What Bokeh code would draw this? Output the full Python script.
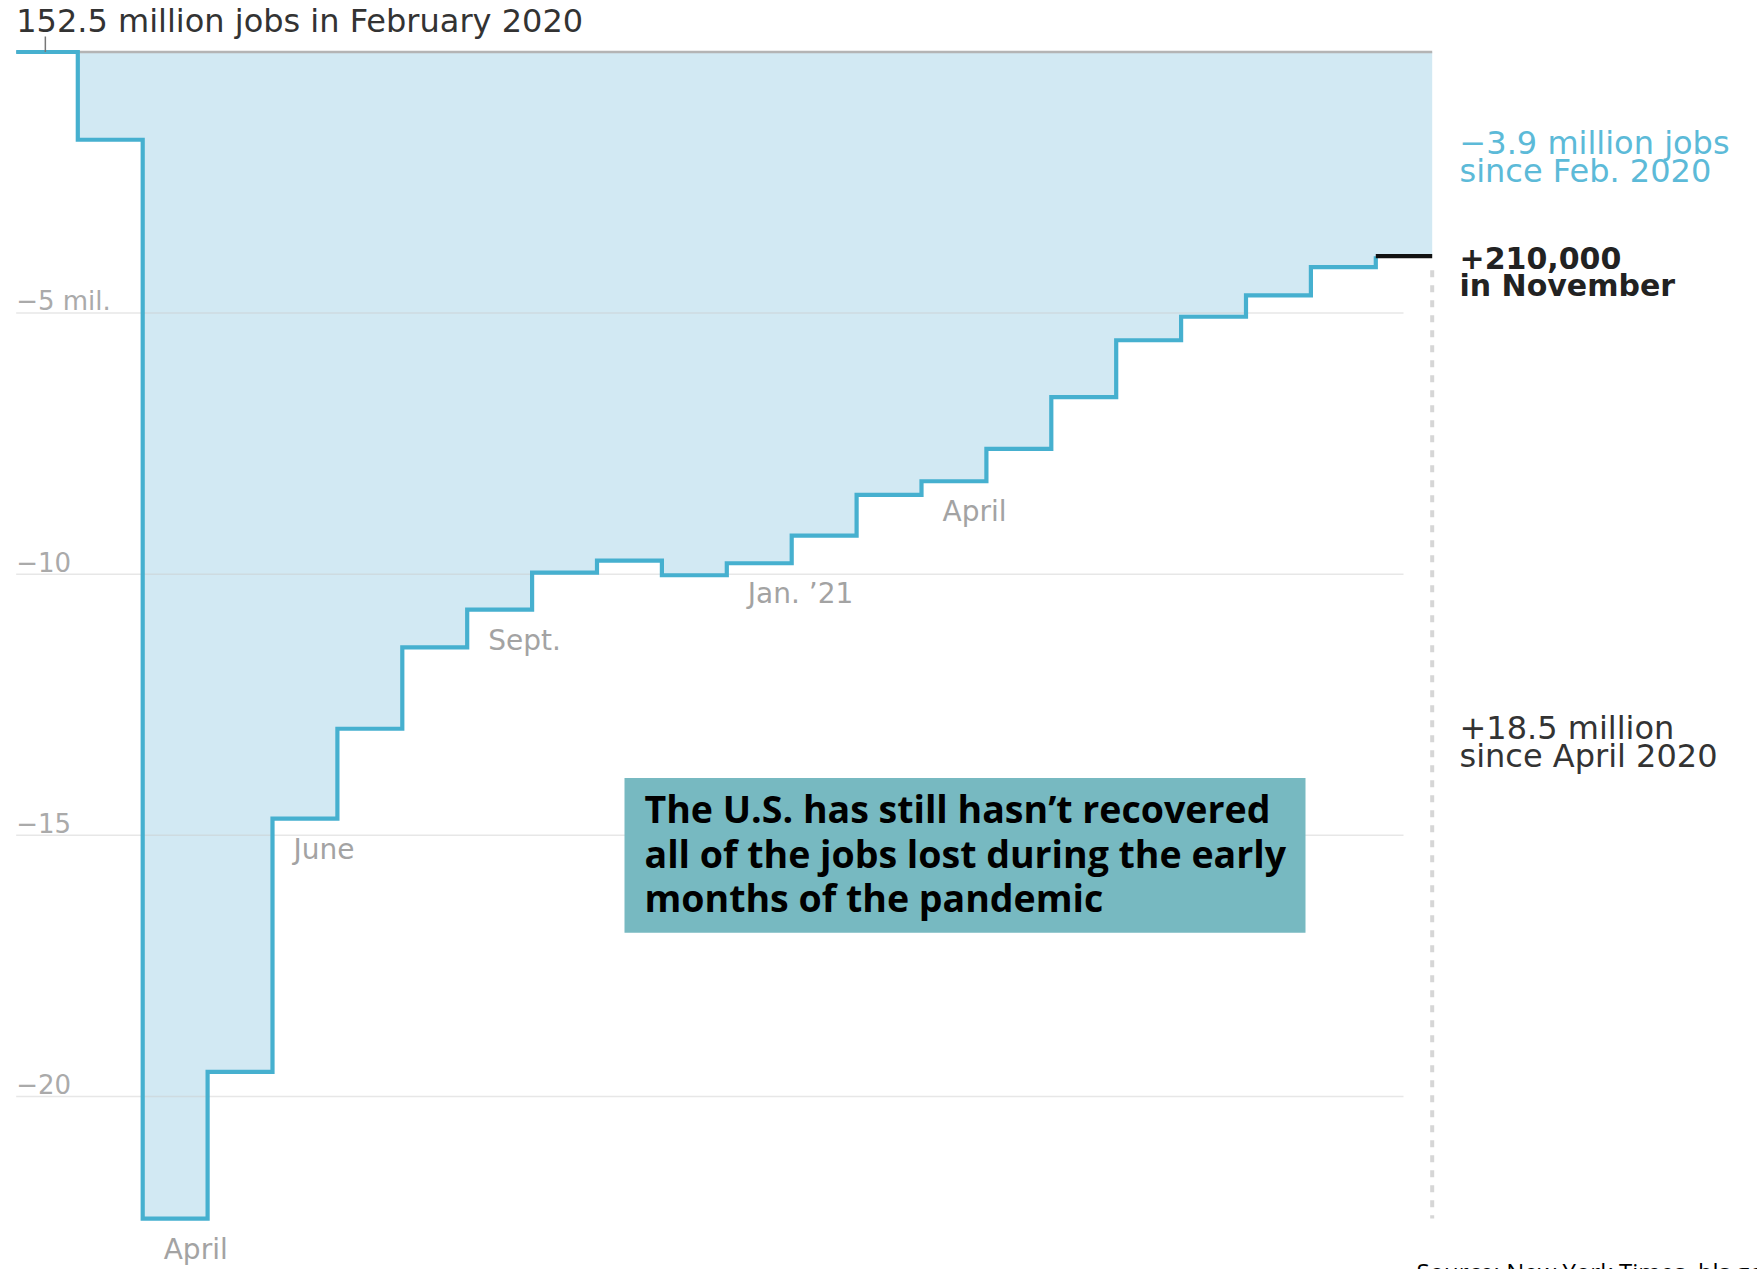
import numpy as np
from bokeh.plotting import figure
from bokeh.models import Range1d
from bokeh.core.properties import value
from bokeh.embed import file_html
from bokeh.resources import INLINE

# ---------------- data ----------------
months = ["Feb 2020", "Mar 2020", "Apr 2020", "May 2020", "Jun 2020", "Jul 2020",
          "Aug 2020", "Sep 2020", "Oct 2020", "Nov 2020", "Dec 2020", "Jan 2021",
          "Feb 2021", "Mar 2021", "Apr 2021", "May 2021", "Jun 2021", "Jul 2021",
          "Aug 2021", "Sep 2021", "Oct 2021", "Nov 2021"]
# change in jobs since Feb. 2020, millions
change_mil = [0.0, -1.68, -22.34, -19.53, -14.68, -12.96, -11.40, -10.68, -9.97,
              -9.74, -10.02, -9.79, -9.26, -8.48, -8.22, -7.60, -6.61, -5.52,
              -5.07, -4.66, -4.12, -3.91]
grid_values = [-5, -10, -15, -20]
grid_labels = ["\u22125 mil.", "\u221210", "\u221215", "\u221220"]
label_names = ["April", "June", "Sept.", "Jan. \u201921", "April"]
label_months = ["Apr 2020", "Jun 2020", "Sep 2020", "Jan 2021", "Apr 2021"]

title_text = "152.5 million jobs in February 2020"
since_feb = ["\u22123.9 million jobs", "since Feb. 2020"]
last_month = ["+210,000", "in November"]
since_apr = ["+18.5 million", "since April 2020"]
box_lines = ["The U.S. has still hasn\u2019t recovered",
             "all of the jobs lost during the early",
             "months of the pandemic"]
source_text = "Source:  New York Times, bls.gov"

# ---------------- layout helpers (page pixels -> data) ----------------
W, H = 1757, 1269
X_ZERO_PX, PX_PER_MONTH = 44.85, 64.9
Y_ZERO_PX, PX_PER_MIL = 51.5, 52.22


def x_of(px):
    return (px - X_ZERO_PX) / PX_PER_MONTH


def y_of(py):
    return (Y_ZERO_PX - py) / PX_PER_MIL


def dy(pixels):
    return pixels / PX_PER_MIL


p = figure(width=W, height=H, x_range=Range1d(x_of(0), x_of(W)),
           y_range=Range1d(y_of(H), y_of(0)),
           toolbar_location=None, output_backend="svg",
           x_axis_location=None, y_axis_location=None, min_border=0)
p.grid.visible = False
p.outline_line_color = None
p.background_fill_color = "white"

vals = np.array(change_mil)
n = len(vals)
idx = np.arange(n)
left = idx - 0.5
right = idx + 0.5
left[0] = x_of(15.7)
right[-1] = x_of(1431.7)
step_x = np.ravel(np.column_stack([left, right]))
step_y = np.repeat(vals, 2)

BLUE = "#46b0cf"
FILL = "#d2e9f3"

# fill
p.varea(x=step_x, y1=np.zeros_like(step_y), y2=step_y, fill_color=FILL)

# gridlines
grid_end = x_of(1403)
p.segment(x0=[left[0]] * len(grid_values), y0=grid_values,
          x1=[grid_end] * len(grid_values), y1=grid_values,
          line_color="#c9c9c9", line_alpha=0.45, line_width=1.5)

# grid labels
p.text(x=[x_of(15.7)] * len(grid_values), y=[g + dy(12.5) for g in grid_values],
       text=grid_labels, text_font=value("DejaVu Sans"), text_font_size="26px",
       text_color="#aaaaaa", text_baseline="alphabetic", text_align="left")

# top baseline
p.segment(x0=[left[0]], y0=[0], x1=[right[-1]], y1=[0],
          line_color="#b4b4b4", line_width=2.5)

# dotted recovery line
p.segment(x0=[right[-1]], y0=[vals[-1] - dy(14)], x1=[right[-1]], y1=[vals.min()],
          line_color="#d6d6d6", line_width=4, line_dash="7 8")

# step line
p.line(step_x[:-1], step_y[:-1], line_color=BLUE, line_width=4.2, line_join="miter")
p.line(step_x[-2:], step_y[-2:], line_color="#111111", line_width=4.2)

# tick under the title
p.segment(x0=[0], y0=[0], x1=[0], y1=[y_of(36)], line_color="#777777", line_width=1.5)

# title
p.text(x=[x_of(15.7)], y=[y_of(20.5)], text=[title_text],
       text_font=value("DejaVu Sans"), text_font_size="32px", text_color="#333333",
       text_baseline="alphabetic")

# month labels
lab_idx = [months.index(m) for m in label_months]
p.text(x=[i - 0.5 + 21 / PX_PER_MONTH for i in lab_idx],
       y=[vals[i] - dy(30.5) for i in lab_idx], text=label_names,
       text_font=value("DejaVu Sans"), text_font_size="28px", text_color="#a3a3a3",
       text_baseline="alphabetic")

# right-hand annotations
ax = x_of(1459)
p.text(x=[ax, ax], y=[y_of(142.5), y_of(170.5)], text=since_feb,
       text_font=value("DejaVu Sans"), text_font_size="32px", text_color="#5cbad8",
       text_baseline="alphabetic")
p.text(x=[ax, ax], y=[y_of(257), y_of(285)], text=last_month,
       text_font=value("DejaVu Sans"), text_font_size="30px", text_font_style="bold",
       text_color="#222222", text_baseline="alphabetic")
p.text(x=[ax, ax], y=[y_of(727), y_of(755)], text=since_apr,
       text_font=value("DejaVu Sans"), text_font_size="32px", text_color="#333333",
       text_baseline="alphabetic")

# headline box
p.quad(left=[x_of(624)], right=[x_of(1305)], top=[y_of(777.6)], bottom=[y_of(932.3)],
       fill_color="#77b9c1", line_color=None)
p.text(x=[x_of(644)] * 3, y=[y_of(808), y_of(852.8), y_of(897.4)], text=box_lines,
       text_font=value("Open Sans"), text_font_size="37.5px", text_font_style="bold",
       text_color="#000000", text_baseline="alphabetic")

# source (cut off at the bottom edge)
p.text(x=[x_of(1416)], y=[y_of(1254)], text=[source_text],
       text_font=value("Open Sans"), text_font_size="24px", text_color="#000000",
       text_baseline="top")

open("out.html", "w").write(file_html(p, INLINE))
